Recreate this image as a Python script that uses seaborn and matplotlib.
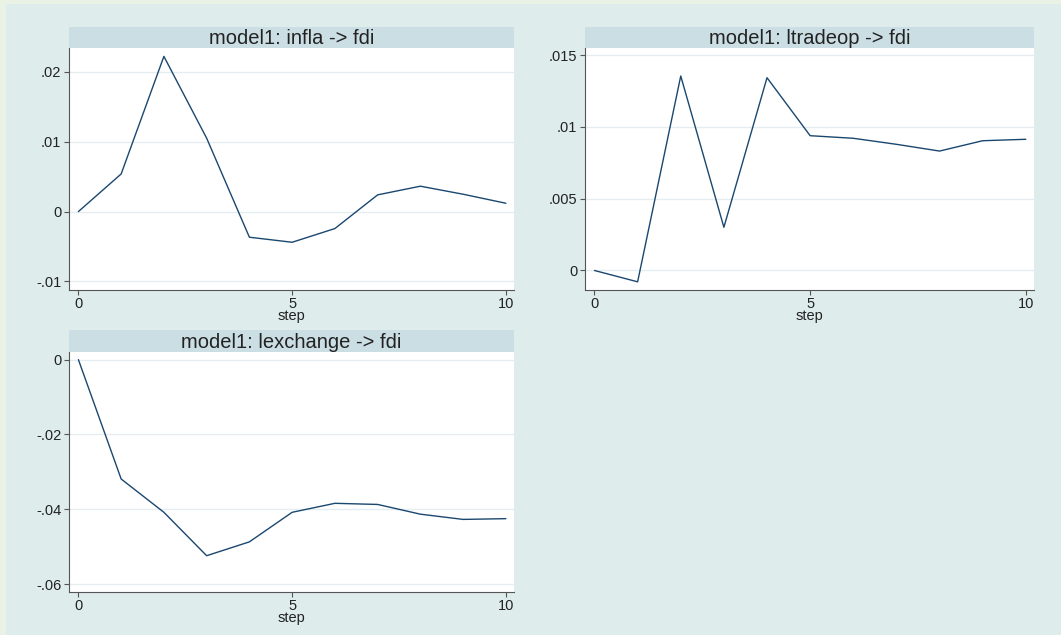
import numpy as np
import pandas as pd
import matplotlib
matplotlib.use("Agg")
import matplotlib.pyplot as plt
import seaborn as sns
from matplotlib.patches import Rectangle
from matplotlib.ticker import FuncFormatter

# impulse responses
steps = list(range(11))
infla = [0.0, 0.00538, 0.0222, 0.0105, -0.00367, -0.00439, -0.00243,
         0.00239, 0.00363, 0.00248, 0.00119]
ltradeop = [0.0, -0.00079, 0.01355, 0.00301, 0.01343, 0.00939, 0.00921,
            0.00879, 0.00832, 0.00904, 0.00914]
lexchange = [0.0, -0.0319, -0.0408, -0.0524, -0.0487, -0.0408, -0.0384,
             -0.0387, -0.0413, -0.0427, -0.0425]

titles = ["model1: infla -> fdi", "model1: ltradeop -> fdi",
          "model1: lexchange -> fdi"]
yticks = [[-0.01, 0, 0.01, 0.02], [0, 0.005, 0.01, 0.015],
          [-0.06, -0.04, -0.02, 0]]
ylims = [(-0.01122, 0.0234), (-0.00136, 0.0155), (-0.0621, 0.00204)]

df = pd.DataFrame({
    "step": steps * 3,
    "irf": infla + ltradeop + lexchange,
    "panel": np.repeat(titles, len(steps)),
})

sns.set_theme(style="white")
plt.rcParams["font.family"] = ["Liberation Sans", "DejaVu Sans"]

W, H = 1061, 635
fig = plt.figure(figsize=(W / 100, H / 100), dpi=100)
fig.patch.set_facecolor("#e9f2e4")
fig.patches.append(Rectangle((6 / W, 0), 1 - 6 / W, 1 - 4 / H,
                             transform=fig.transFigure,
                             facecolor="#deecec", edgecolor="none", zorder=-10))

# pixel boxes: left, top, right, bottom of plot area; strip top
boxes = [(69, 48, 514, 290, 27), (585, 48, 1034, 290, 27),
         (69, 352, 514, 592, 330)]

def fmt(v, pos):
    s = f"{v:g}"
    return s.replace("0.", ".", 1) if "0." in s else s

navy = "#1a476f"
for title, (l, t, r, b, st), yt, yl in zip(titles, boxes, yticks, ylims):
    ax = fig.add_axes([l / W, 1 - b / H, (r - l) / W, (b - t) / H])
    ax.set_facecolor("white")
    sub = df[df.panel == title]
    sns.lineplot(data=sub, x="step", y="irf", ax=ax, color=navy, lw=1.0)
    ax.set_xlim(-0.22, 10.19)
    ax.set_ylim(*yl)
    ax.set_xticks([0, 5, 10])
    ax.set_yticks(yt)
    ax.yaxis.set_major_formatter(FuncFormatter(fmt))
    ax.grid(axis="y", color="#e4eef1", lw=1.0)
    ax.set_axisbelow(True)
    for s in ["top", "right"]:
        ax.spines[s].set_visible(False)
    for s in ["left", "bottom"]:
        ax.spines[s].set_color("#555555")
        ax.spines[s].set_linewidth(0.8)
    ax.tick_params(axis="both", direction="out", length=3.5, width=0.8,
                   color="#555555", labelsize=10.5, labelcolor="#222222",
                   left=True, bottom=True, pad=2)
    ax.tick_params(axis="x", pad=1.5)
    ax.set_xlabel("step", fontsize=10.5, color="#222222", labelpad=-1.5)
    ax.set_ylabel("")

    sax = fig.add_axes([l / W, 1 - t / H, (r - l) / W, (t - st) / H])
    sax.set_facecolor("#cbdee4")
    sax.set_xticks([])
    sax.set_yticks([])
    for s in sax.spines.values():
        s.set_visible(False)
    sax.text(0.5, 0.45, title, ha="center", va="center", fontsize=14.5,
             color="#222222", transform=sax.transAxes)

fig.savefig("out.png", dpi=100, facecolor=fig.get_facecolor())
